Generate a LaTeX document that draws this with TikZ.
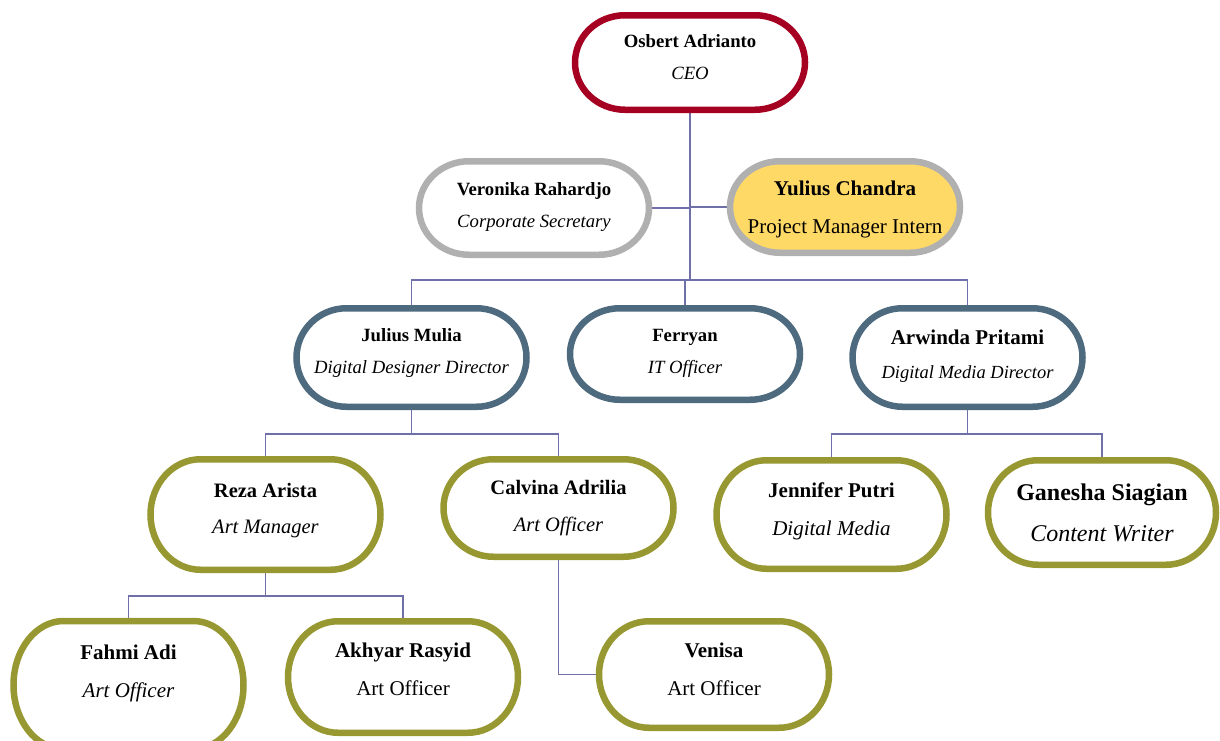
\documentclass[tikz,border=0pt]{standalone}
\usepackage{fontspec}
\setmainfont{Liberation Serif}
\usetikzlibrary{backgrounds,calc}
\definecolor{ceored}{RGB}{165,0,33}
\definecolor{silver}{RGB}{176,176,176}
\definecolor{gold}{RGB}{255,217,102}
\definecolor{slate}{RGB}{78,106,127}
\definecolor{olive}{RGB}{152,152,50}
\definecolor{linkc}{RGB}{112,112,168}
\newcommand\fsmall{\fontsize{18.7}{32}\selectfont}
\newcommand\fmid{\fontsize{20.5}{36.5}\selectfont}
\newcommand\fbig{\fontsize{21}{38}\selectfont}
\newcommand\fhuge{\fontsize{24}{41}\selectfont}
\begin{document}
\begin{tikzpicture}[x=10pt,y=-10pt,
    person/.style={rectangle,inner sep=0pt,outer sep=0pt,minimum width=230pt,align=center,text depth=10pt},
    pill/.style={line width=6.5pt},
    link/.style={draw=linkc,line width=1.8pt}]
    %	\draw[help lines] (0,0) grid (122,74);
    \useasboundingbox (0,0) rectangle (122,74);
    \clip (0,0) rectangle (122,74);
    \node[person,font=\fsmall,minimum height=94.5pt] (ceo) at (69,6.25) {\textbf{Osbert Adrianto}\\\textit{CEO}};
    \node[person,font=\fsmall,minimum height=93.5pt,text depth=6pt] (vero) at (53.4,20.8) {\textbf{Veronika Rahardjo}\\\textit{Corporate Secretary}};
    \node[person,font=\fbig,minimum height=91.5pt,text depth=0pt] (yul) at (84.5,20.7) {\textbf{Yulius Chandra}\\Project Manager Intern};
    \node[person,font=\fsmall,minimum height=98.5pt,text depth=13pt] (jul) at (41.15,35.75) {\textbf{Julius Mulia}\\\textit{Digital Designer Director}};
    \node[person,font=\fsmall,minimum height=91.5pt,text depth=6pt] (fer) at (68.5,35.4) {\textbf{Ferryan}\\\textit{IT Officer}};
    \node[person,font={\fontsize{18.5}{34}\selectfont},minimum height=98.5pt,text depth=7pt] (arw) at (96.75,35.75) {{\fontsize{21}{34}\selectfont\textbf{Arwinda Pritami}}\\\textit{Digital Media Director}};
    \node[person,font=\fmid,minimum height=110.5pt,text depth=12pt] (reza) at (26.55,51.45) {\textbf{Reza Arista}\\\textit{Art Manager}};
    \node[person,font=\fmid,minimum height=97.5pt,text depth=4pt] (calv) at (55.85,50.8) {\textbf{Calvina Adrilia}\\\textit{Art Officer}};
    \node[person,font=\fbig,minimum height=108.5pt,text depth=11pt] (jen) at (83.15,51.45) {\textbf{Jennifer Putri}\\\textit{Digital Media}};
    \node[person,font=\fhuge,minimum height=104.5pt,minimum width=228pt,text depth=0pt] (gan) at (110.2,51.25) {\textbf{Ganesha Siagian}\\\textit{Content Writer}};
    \node[person,font=\fbig,minimum height=128pt,text depth=28pt] (fahmi) at (12.85,68.5) {\textbf{Fahmi Adi}\\\textit{Art Officer}};
    \node[person,font=\fbig,minimum height=111.5pt,text depth=16pt] (akh) at (40.3,67.7) {\textbf{Akhyar Rasyid}\\Art Officer};
    \node[person,font=\fbig,minimum height=106.5pt,text depth=11pt] (ven) at (71.4,67.45) {\textbf{Venisa}\\Art Officer};
    \coordinate (bus1) at (69,28);
    \coordinate (bus2) at (41.2,43.4);
    \coordinate (bus3) at (96.8,43.4);
    \coordinate (bus4) at (26.6,59.6);
    \begin{scope}[on background layer]
        \draw[link] (ceo.south) -- (bus1);
        \draw[link] (vero.east) -- (vero.east -| bus1);
        \draw[link] (yul.west) -- (yul.west -| bus1);
        \draw[link] (jul.north) |- (bus1) -| (arw.north);
        \draw[link] (fer.north) -- (fer.north |- bus1);
        \draw[link] (jul.south) -- (jul.south |- bus2);
        \draw[link] (reza.north) |- (bus2) -| (calv.north);
        \draw[link] (arw.south) -- (arw.south |- bus3);
        \draw[link] (jen.north) |- (bus3) -| (gan.north);
        \draw[link] (reza.south) -- (reza.south |- bus4);
        \draw[link] (fahmi.north) |- (bus4) -| (akh.north);
        \draw[link] (calv.south) |- (ven.west);
        % pill outlines
        \foreach \who/\rim/\inside in {ceo/ceored/white,vero/silver/white,yul/silver/gold,
            jul/slate/white,fer/slate/white,arw/slate/white,reza/olive/white,calv/olive/white,
            jen/olive/white,gan/olive/white,fahmi/olive/white,akh/olive/white,ven/olive/white}
            \draw[pill,draw=\rim,fill=\inside] let \p1=(\who.north west), \p2=(\who.south east) in
                (\x1+50pt,\y1) -- (\x2-50pt,\y1)
                arc[start angle=90,end angle=-90,x radius=50pt,y radius={(\y1-\y2)/2}]
                -- (\x1+50pt,\y2)
                arc[start angle=270,end angle=90,x radius=50pt,y radius={(\y1-\y2)/2}] -- cycle;
    \end{scope}
\end{tikzpicture}
\end{document}
